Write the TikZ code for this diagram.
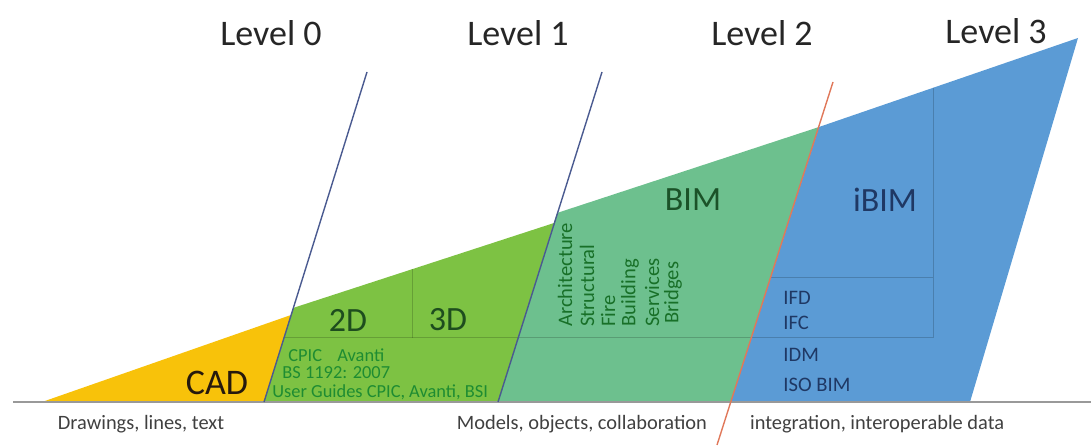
\documentclass[tikz,border=0pt]{standalone}
\usepackage{fontspec}
\setmainfont{Carlito}
\usetikzlibrary{positioning}

\definecolor{cadyellow}{HTML}{F8C20A}
\definecolor{twodgreen}{HTML}{7DC243}
\definecolor{bimgreen}{HTML}{6DC08E}
\definecolor{ibimblue}{HTML}{5B9BD5}
\definecolor{levelline}{HTML}{4A5A90}
\definecolor{leveltwoline}{HTML}{E0785A}
\definecolor{darkgreentext}{HTML}{1E4D1E}
\definecolor{greentext}{HTML}{1E8C32}
\definecolor{navytext}{HTML}{1F3864}

\begin{document}
\begin{tikzpicture}[
    x=0.5pt, y=-0.5pt,
    region/.style={draw=none},
    divider/.style={draw=black, draw opacity=0.18, line width=0.5pt},
    levelrule/.style={line width=0.7pt, levelline},
    baserule/.style={line width=0.6pt, black!40},
    levellabel/.style={font=\fontsize{18}{20}\selectfont, text=black!85},
    bigtag/.style={font=\fontsize{17}{19}\selectfont},
    smalltag/.style={font=\fontsize{9.2}{10}\selectfont, text=greentext, inner sep=0pt, anchor=west},
    disciplinetag/.style={font=\fontsize{10.3}{11}\selectfont, text=greentext!80!black, rotate=90, inner sep=0pt, anchor=west},
    standardtag/.style={font=\fontsize{10.3}{11}\selectfont, text=navytext, inner sep=0pt, anchor=west},
    axislabel/.style={font=\fontsize{10.2}{11}\selectfont, text=black!75}
]

\useasboundingbox (0,0) rectangle (1091,448);

% Define coordinates
\coordinate (base_w) at (13,402);
\coordinate (base_e) at (1091,402);
\coordinate (l0_top) at (367,72);
\coordinate (l0_bot) at (264,402);
\coordinate (l1_top) at (602,72);
\coordinate (l1_bot) at (498,402);
\coordinate (l2_top) at (833,82);
\coordinate (l2_bot) at (731,402);
\coordinate (l2_end) at (717,445);

% Shade the four wedges
\path[region, fill=cadyellow] (42,402) -- (291,315) -- (l0_bot) -- cycle;
\path[region, fill=twodgreen] (l0_bot) -- (293,308) -- (554,223) -- (l1_bot) -- cycle;
\path[region, fill=bimgreen] (l1_bot) -- (557,213) -- (819,127) -- (l2_bot) -- cycle;
\path[region, fill=ibimblue] (l2_bot) -- (819,127) -- (1078,38) -- (970,402) -- cycle;

% Inner dividers
\draw[divider] (284,338) -- (933,338);
\draw[divider] (412,269) -- (412,338);
\draw[divider] (770,278) -- (933,278);
\draw[divider] (933,88) -- (933,338);

% Baseline and level rules
\draw[baserule] (base_w) -- (base_e);
\draw[levelrule] (l0_top) -- (l0_bot);
\draw[levelrule] (l1_top) -- (l1_bot);
\draw[levelrule, leveltwoline] (l2_top) -- (l2_end);

% Level labels
\node[levellabel] (lev0) at (271,33) {Level 0};
\node[levellabel] (lev1) at (518,33) {Level 1};
\node[levellabel] (lev2) at (762,33) {Level 2};
\node[levellabel] (lev3) at (996,31) {Level 3};

% Wedge labels
\node[bigtag, text=black!80!brown] (cad) at (217,383) {\fontsize{18}{20}\selectfont CAD};
\node[bigtag, text=darkgreentext] (twod) at (348,320) {2D};
\node[bigtag, text=darkgreentext] (threed) at (448,320) {3D};
\node[bigtag, text=darkgreentext!90!teal] (bim) at (693,200) {BIM};
\node[bigtag, text=navytext] (ibim) at (885,200) {iBIM};

\node[smalltag] (cpic) at (288,355) {CPIC\hspace{0.6em} Avanti};
\node[smalltag] (bs) at (282,373) {BS 1192: 2007};
\node[smalltag] (guides) at (272,392) {User Guides CPIC, Avanti, BSI};

\node[disciplinetag] (arch) at (565,327) {Architecture};
\node[disciplinetag] (struct) at (587,327) {Structural};
\node[disciplinetag] (fire) at (608,327) {Fire};
\node[disciplinetag] (build) at (630,327) {Building};
\node[disciplinetag] (serv) at (652,327) {Services};
\node[disciplinetag] (bridge) at (673,324) {Bridges};

\node[standardtag] (ifd) at (783,298) {IFD};
\node[standardtag] (ifc) at (783,323) {IFC};
\node[standardtag] (idm) at (783,355) {IDM};
\node[standardtag] (iso) at (783,385) {ISO BIM};

% Axis descriptions
\node[axislabel] (draw_txt) at (141,424) {Drawings, lines, text};
\node[axislabel, anchor=east] (model_txt) at (714,424) {Models, objects, collaboration};
\node[axislabel, anchor=west] (integ_txt) at (743,424) {integration, interoperable data};

\end{tikzpicture}
\end{document}
